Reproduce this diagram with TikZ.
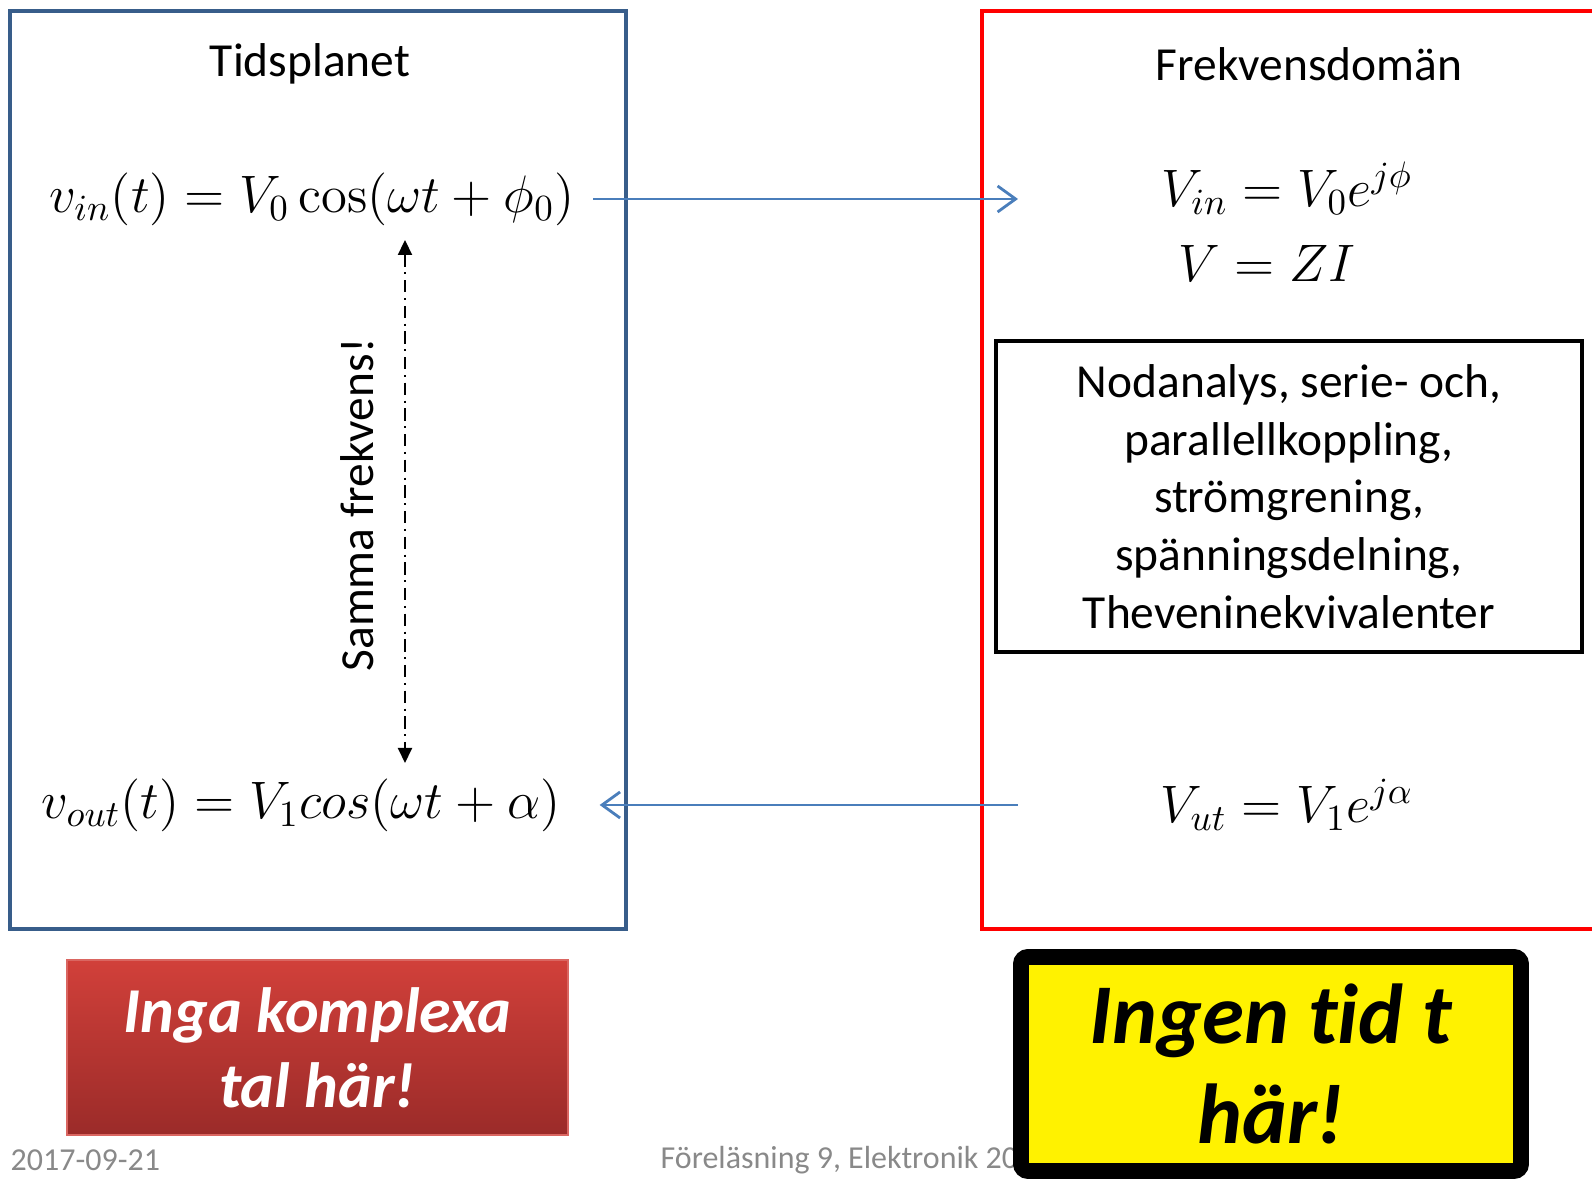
\RequirePackage{fix-cm}
\documentclass[tikz,border=0pt]{standalone}
\usepackage[no-math]{fontspec}
\setmainfont{Carlito}[Ligatures=NoCommon]
\usepackage{amsmath}
\usetikzlibrary{arrows.meta}

\definecolor{frameblue}{RGB}{56,93,138}
\definecolor{arrowblue}{RGB}{74,126,187}
\definecolor{footgray}{RGB}{137,137,137}
\definecolor{redtop}{RGB}{209,64,58}
\definecolor{redbot}{RGB}{155,43,41}

\begin{document}
\begin{tikzpicture}[
    title/.style={font=\fontsize{13.5}{16.4}\selectfont},
    eq/.style={font=\fontsize{15}{18}\selectfont},
    foot/.style={font=\fontsize{9.1}{11}\selectfont, text=footgray, anchor=west, inner sep=0pt},
    conv/.style={-{Straight Barb[length=1.8mm,width=2.6mm]}, arrowblue, line width=0.8pt},
    samefreq/.style={{Triangle[length=1.5mm,width=1.4mm]}-{Triangle[length=1.5mm,width=1.4mm]},
        line width=0.6pt, dash pattern=on 3.5pt off 1.6pt on 0.6pt off 1.6pt}]
    \useasboundingbox (0,0) rectangle (15.92,-11.79);

    % the two domains
    \draw[frameblue, line width=1.2pt] (0.10,-0.11) rectangle (6.26,-9.29);
    \draw[red, line width=1.3pt] (9.82,-0.11) rectangle (16.2,-9.29);

    \node (tid) [title] at (3.10,-0.64) {Tidsplanet};
    \node (frek) [title] at (13.09,-0.64) {Frekvensdomän};

    % time domain
    \node (vin) [eq] at (3.12,-1.99) {$v_{in}(t) = V_0\cos(\omega t + \phi_0)$};
    \node (vout) [eq] at (3.01,-8.05) {$v_{out}(t) = V_1 cos(\omega t + \alpha)$};
    \node (same) [title, rotate=90] at (3.57,-5.05) {Samma frekvens!};
    \coordinate (up) at (4.05,-2.40);
    \coordinate (down) at (4.05,-7.63);
    \draw[samefreq] (up) -- (down);

    % frequency domain
    \node (Vin) [eq] at (12.87,-1.88) {$V_{in} = V_0 e^{j\phi}$};
    \node (ohm) [eq] at (12.67,-2.64) {$V = ZI$};
    \node (methods) [draw, line width=1.2pt, minimum width=5.86cm, minimum height=3.11cm,
        align=center, title] at (12.89,-4.965)
        {Nodanalys, serie- och,\\parallellkoppling,\\strömgrening,\\spänningsdelning,\\Theveninekvivalenter};
    \node (Vut) [eq] at (12.87,-8.05) {$V_{ut} = V_1 e^{j\alpha}$};

    \coordinate (fin) at (10.18,-1.99);
    \coordinate (fout) at (10.18,-8.05);
    \draw[conv, shorten <=0.06cm] (vin) -- (fin);
    \draw[conv, shorten >=0.27cm] (fout) -- (vout);

    % footer
    \node (date) [foot] at (0.10,-11.60) {2017-09-21};
    \node (lecture) [foot] at (6.60,-11.60) {Föreläsning 9, Elektronik 20};

    % notes
    \node (nocomplex) [draw=redtop!80!white, top color=redtop, bottom color=redbot,
        minimum width=5.01cm, minimum height=1.75cm, text=white, align=center,
        font=\bfseries\itshape\fontsize{18.2}{21.3}\selectfont] at (3.175,-10.475)
        {Inga komplexa\\tal här!};
    \node (notime) [fill=yellow, draw=black, line width=4.5pt, rounded corners=2pt,
        minimum width=5.0cm, minimum height=2.14cm, align=center,
        font=\bfseries\itshape\fontsize{24.2}{28.2}\selectfont] at (12.71,-10.64)
        {Ingen tid t\\här!};
\end{tikzpicture}
\end{document}
